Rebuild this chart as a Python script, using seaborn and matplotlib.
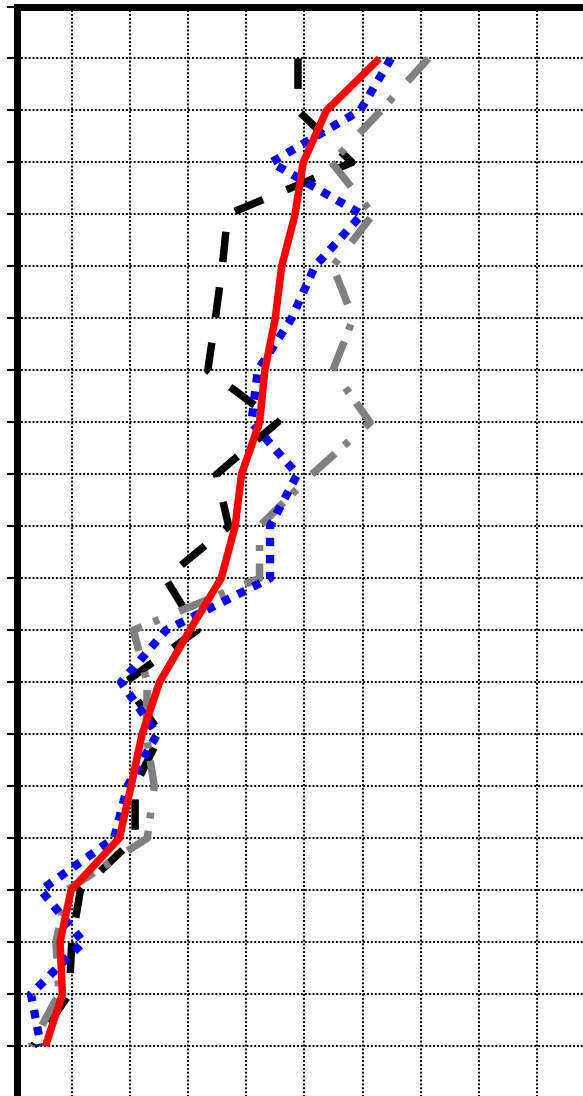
import matplotlib
matplotlib.use("Agg")
import matplotlib.pyplot as plt
import seaborn as sns

# levels from top (first point of each path) to bottom
levels = list(range(20, 0, -1))

black_x = [4.89, 4.89, 5.82, 3.68, 3.59, 3.47, 3.34, 4.54, 3.49, 3.70,
           2.61, 3.16, 1.92, 2.53, 2.09, 2.09, 1.15, 1.00, 0.96, 0.34]
gray_x = [7.13, 6.32, 5.47, 6.18, 5.49, 5.84, 5.49, 6.13, 5.13, 4.23,
          4.23, 2.06, 2.30, 2.28, 2.42, 2.30, 0.92, 0.73, 0.78, 0.30]
blue_x = [6.49, 5.96, 4.43, 5.99, 5.18, 4.78, 4.20, 4.09, 4.88, 4.41,
          4.41, 2.62, 1.85, 2.47, 1.96, 1.73, 0.47, 1.20, 0.30, 0.47]
red_x = [6.29, 5.38, 4.98, 4.84, 4.61, 4.50, 4.32, 4.23, 3.92, 3.81,
         3.57, 3.03, 2.51, 2.21, 2.02, 1.82, 0.99, 0.80, 0.84, 0.55]

y_ticks = list(range(0, 22))
x_grid = list(range(1, 10))

sns.set_theme(style="white")

W, H = 583, 1096
fig = plt.figure(figsize=(W / 100, H / 100), dpi=100)
left_px, right_px, top_px, bottom_px = 17, 595.2, 6.5, 1098
ax = fig.add_axes([left_px / W, (H - bottom_px) / H,
                   (right_px - left_px) / W, (bottom_px - top_px) / H])

lw = 5.4
common = dict(sort=False, orient="y", estimator=None, ax=ax, legend=False)
sns.lineplot(x=black_x, y=levels, color="black", linewidth=lw,
             linestyle=(0, (4.05, 3.4)), zorder=3, **common)
sns.lineplot(x=gray_x, y=levels, color="#808080", linewidth=lw,
             linestyle=(0, (4.1, 2.9, 0.8, 1.66)), zorder=4, **common)
sns.lineplot(x=blue_x, y=levels, color="#0000ff", linewidth=6.0,
             linestyle=(0, (1.0, 1.05)), zorder=5, **common)
sns.lineplot(x=red_x, y=levels, color="#ff0000", linewidth=lw,
             linestyle="-", zorder=6, **common)
for ln in ax.lines:
    ln.set_dash_capstyle("butt")
    ln.set_solid_capstyle("butt")

ax.set_xlim(0.06, 10)
ax.set_ylim(0, 21)
ax.set_xticks(x_grid)
ax.set_yticks(y_ticks)
ax.tick_params(axis="x", length=0, labelbottom=False, bottom=False)
ax.tick_params(axis="y", left=True, direction="out", length=7.4, width=1.5,
               color="black", labelleft=False)
ax.grid(True, color="black", linestyle=(0, (1, 1)), linewidth=1.4)
ax.set_axisbelow(True)
ax.set_facecolor("white")
for side in ["left", "top", "bottom", "right"]:
    ax.spines[side].set_visible(True)
    ax.spines[side].set_color("black")
    ax.spines[side].set_linewidth(5)
ax.set_xlabel("")
ax.set_ylabel("")

fig.savefig("out.png", dpi=100, facecolor="white")
